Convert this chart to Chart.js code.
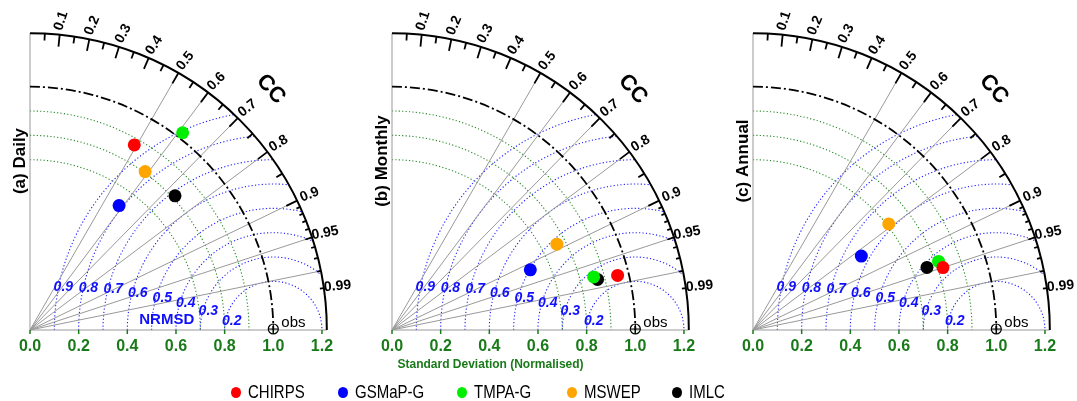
<!DOCTYPE html>
<html><head><meta charset="utf-8">
<script src="https://cdn.jsdelivr.net/npm/chart.js@4.4.1/dist/chart.umd.min.js"></script>
<style>
html,body{margin:0;padding:0;background:#fff;}
body{width:1077px;height:401px;overflow:hidden;position:relative;font-family:"Liberation Sans",Arial,sans-serif;}
canvas{position:absolute;top:0;}
.lg{position:absolute;top:381px;height:22px;line-height:22px;font-size:15px;color:#000;white-space:nowrap;}
.lg span{display:inline-block;transform:scaleY(1.18);}
.lg i{position:absolute;left:-17px;top:6px;width:10px;height:11px;border-radius:50%;}
</style></head><body>
<canvas id="c0" width="362" height="401" style="left:0px"></canvas>
<canvas id="c1" width="362" height="401" style="left:362px"></canvas>
<canvas id="c2" width="354" height="401" style="left:723px"></canvas>
<div id="legend"></div>
<script>
// ---------------- DATA ----------------
const seriesNames  = ['CHIRPS', 'GSMaP-G', 'TMPA-G', 'MSWEP', 'IMLC'];
const seriesColors = ['#ff0000', '#0000ff', '#00ee00', '#ffa500', '#000000'];
const panelTitles  = ['(a) Daily', '(b) Monthly', '(c) Annual'];
// normalised standard deviation and correlation coefficient (CHIRPS, GSMaP-G, TMPA-G, MSWEP, IMLC)
const sdDaily   = [0.873, 0.629, 1.025, 0.805, 0.812];
const ccDaily   = [0.491, 0.582, 0.612, 0.588, 0.734];
const sdMonthly = [0.954, 0.620, 0.857, 0.764, 0.870];
const ccMonthly = [0.972, 0.917, 0.967, 0.887, 0.971];
const sdAnnual  = [0.822, 0.539, 0.813, 0.708, 0.760];
const ccAnnual  = [0.950, 0.826, 0.938, 0.788, 0.941];
const sdTickLabels = ['0.0', '0.2', '0.4', '0.6', '0.8', '1.0', '1.2'];
const sdTicks      = [0.0, 0.2, 0.4, 0.6, 0.8, 1.0, 1.2];
const ccTickLabels = ['0.1','0.2','0.3','0.4','0.5','0.6','0.7','0.8','0.9','0.95','0.99'];
const ccMajor  = [0.1,0.2,0.3,0.4,0.5,0.6,0.7,0.8,0.9];
const ccMedium = [0.05,0.15,0.25,0.35,0.45,0.55,0.65,0.75,0.85,0.95];
const ccMinor  = [0.91,0.92,0.93,0.94,0.96,0.97,0.98,0.99];
const ccLines  = [0.5, 0.6, 0.7, 0.8, 0.9, 0.95, 0.98];
const nrmsdLevels = [0.2, 0.3, 0.4, 0.5, 0.6, 0.7, 0.8, 0.9];
const sdArcs = [0.7, 0.8, 0.9];
const refSd = 1.0;
const maxSd = 1.22;

const panels = [
  {sd: sdDaily,   cc: ccDaily},
  {sd: sdMonthly, cc: ccMonthly},
  {sd: sdAnnual,  cc: ccAnnual}
];

// ---------------- LAYOUT ----------------
const U = 243.3, OX = 30, OY = 330, H = 401;
// nrmsd label anchors (data units) for levels 0.2..0.9
const gLabelPos = {0.9:[0.137,0.178],0.8:[0.240,0.174],0.7:[0.342,0.167],0.6:[0.443,0.151],
                   0.5:[0.544,0.133],0.4:[0.640,0.110],0.3:[0.733,0.079],0.2:[0.829,0.037]};
const GREEN_TXT = '#1a7a1a';
const FONT = '"Liberation Sans", Arial, sans-serif';

function taylorPlugin(idx){
  return {
    id: 'taylor' + idx,
    beforeDatasetsDraw(chart){
      const ctx = chart.ctx, xs = chart.scales.x, ys = chart.scales.y;
      const px = v => xs.getPixelForValue(v), py = v => ys.getPixelForValue(v);
      const ox = px(0), oy = py(0), u = px(1) - px(0);
      const R = maxSd * u;
      ctx.save();
      // sd arcs (green dotted)
      ctx.strokeStyle = '#268a26'; ctx.lineWidth = 1.1; ctx.setLineDash([1.2, 2.2]);
      for (const r of sdArcs){ ctx.beginPath(); ctx.arc(ox, oy, r*u, -Math.PI/2, 0); ctx.stroke(); }
      // NRMSD arcs (blue dotted)
      ctx.strokeStyle = '#2020ff';
      for (const g of nrmsdLevels){
        let phi = 0;
        if (refSd + g > maxSd){
          const xi = (maxSd*maxSd - g*g + refSd*refSd) / (2*refSd);
          phi = Math.acos((xi - refSd)/g);
        }
        ctx.beginPath(); ctx.arc(px(refSd), oy, g*u, Math.PI, 2*Math.PI - phi); ctx.stroke();
      }
      // radial correlation lines
      ctx.setLineDash([]); ctx.strokeStyle = '#999'; ctx.lineWidth = 1;
      for (const c of ccLines){
        const t = Math.acos(c);
        ctx.beginPath(); ctx.moveTo(ox, oy); ctx.lineTo(ox + R*Math.cos(t), oy - R*Math.sin(t)); ctx.stroke();
      }
      // axes
      ctx.beginPath(); ctx.moveTo(ox, oy - R); ctx.lineTo(ox, oy); ctx.lineTo(ox + R, oy); ctx.stroke();
      // reference arc (black dash-dot)
      ctx.strokeStyle = '#000'; ctx.lineWidth = 1.8; ctx.setLineDash([10, 3, 2, 3]);
      ctx.beginPath(); ctx.arc(ox, oy, refSd*u, -Math.PI/2, 0); ctx.stroke();
      // outer arc
      ctx.setLineDash([]); ctx.lineWidth = 2;
      ctx.beginPath(); ctx.arc(ox, oy, R, -Math.PI/2, 0); ctx.stroke();
      // ticks
      const tick = (c, len) => {
        const t = Math.acos(c);
        ctx.beginPath();
        ctx.moveTo(ox + R*Math.cos(t), oy - R*Math.sin(t));
        ctx.lineTo(ox + (R-len)*Math.cos(t), oy - (R-len)*Math.sin(t));
        ctx.stroke();
      };
      ctx.lineWidth = 1.8;
      ccMajor.forEach(c => tick(c, 12));
      ccMedium.forEach(c => tick(c, 7));
      ccMinor.forEach(c => tick(c, 4));
      // cc tick labels
      ctx.fillStyle = '#000'; ctx.font = 'bold 14px ' + FONT;
      ctx.textAlign = 'center'; ctx.textBaseline = 'middle';
      const ccVals = ccMajor.concat([0.95, 0.99]);
      ccVals.forEach((c, i) => {
        const t = Math.acos(c), rr = 1.277*u;
        ctx.save();
        ctx.translate(ox + rr*Math.cos(t), oy - rr*Math.sin(t));
        ctx.rotate(-t * (c >= 0.95 ? 0.6 : 0.85));
        ctx.fillText(ccTickLabels[i], 0, 0);
        ctx.restore();
      });
      // CC title
      ctx.save();
      const rc = 1.40*u;
      ctx.translate(ox + rc*Math.cos(Math.PI/4), oy - rc*Math.sin(Math.PI/4));
      ctx.rotate(Math.PI/4 + 0.05);
      ctx.font = 'bold 22px ' + FONT;
      ctx.fillText('CC', 0, 0);
      ctx.restore();
      // x axis ticks and labels
      ctx.strokeStyle = GREEN_TXT; ctx.lineWidth = 1.5;
      ctx.fillStyle = GREEN_TXT; ctx.font = 'bold 16px ' + FONT;
      sdTicks.forEach((v, i) => {
        ctx.beginPath(); ctx.moveTo(px(v), oy); ctx.lineTo(px(v), oy + 4); ctx.stroke();
        ctx.fillText(sdTickLabels[i], px(v), oy + 17);
      });
      // nrmsd labels
      ctx.fillStyle = '#1010ff'; ctx.font = 'italic bold 14px ' + FONT;
      nrmsdLevels.forEach(g => {
        const p = gLabelPos[g];
        ctx.fillText(g.toFixed(1), px(p[0]), py(p[1]));
      });
      if (idx === 0){
        ctx.font = 'bold 15px ' + FONT;
        ctx.fillText('NRMSD', px(0.562), py(0.042));
      }
      if (idx === 1){
        ctx.fillStyle = GREEN_TXT; ctx.font = 'bold 12px ' + FONT;
        ctx.fillText('Standard Deviation (Normalised)', px(0.405), oy + 35);
      }
      // obs marker
      ctx.strokeStyle = '#000'; ctx.lineWidth = 1.2;
      const rx = px(refSd);
      ctx.beginPath(); ctx.arc(rx, oy - 1, 5, 0, 2*Math.PI); ctx.stroke();
      ctx.beginPath(); ctx.moveTo(rx - 5, oy - 1); ctx.lineTo(rx + 5, oy - 1);
      ctx.moveTo(rx, oy - 6); ctx.lineTo(rx, oy + 4); ctx.stroke();
      ctx.fillStyle = '#000'; ctx.font = '15px ' + FONT; ctx.textAlign = 'left';
      ctx.fillText('obs', rx + 8, oy - 7);
      // panel title
      ctx.save();
      ctx.translate(ox - 10, 161);
      ctx.rotate(-Math.PI/2);
      ctx.textAlign = 'center';
      ctx.font = 'bold 17px ' + FONT;
      ctx.fillText(panelTitles[idx], 0, 0);
      ctx.restore();
      ctx.restore();
    }
  };
}

panels.forEach((p, idx) => {
  const cv = document.getElementById('c' + idx);
  const W = cv.width;
  const datasets = seriesNames.map((name, k) => ({
    label: name,
    data: [{x: p.sd[k]*p.cc[k], y: p.sd[k]*Math.sqrt(1 - p.cc[k]*p.cc[k])}],
    backgroundColor: seriesColors[k],
    borderWidth: 0,
    pointRadius: 6.5,
    pointHoverRadius: 6.5
  }));
  new Chart(cv, {
    type: 'scatter',
    data: {datasets},
    options: {
      responsive: false, animation: false, devicePixelRatio: 1,
      layout: {padding: 0, autoPadding: false},
      plugins: {legend: {display: false}, tooltip: {enabled: false}},
      scales: {
        x: {type: 'linear', display: false, min: -OX/U, max: (W - OX)/U},
        y: {type: 'linear', display: false, min: -(H - OY)/U, max: OY/U}
      }
    },
    plugins: [taylorPlugin(idx)]
  });
});

// HTML legend
const legendLeft = [248, 355, 474, 584, 689];
const lg = document.getElementById('legend');
seriesNames.forEach((n, k) => {
  const d = document.createElement('div');
  d.className = 'lg';
  d.style.left = legendLeft[k] + 'px';
  d.innerHTML = '<i style="background:' + seriesColors[k] + '"></i><span>' + n + '</span>';
  lg.appendChild(d);
});
</script>
</body></html>
